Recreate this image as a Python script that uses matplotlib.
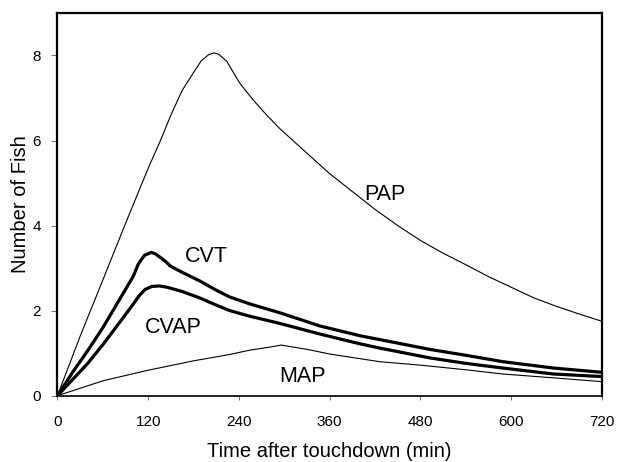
import matplotlib.pyplot as plt
import numpy as np

plt.rcParams['font.family'] = ['Liberation Sans', 'DejaVu Sans']

# time after touchdown (min) and number of fish per group
pap_t = [0, 30, 60, 90, 120, 135, 150, 165, 180, 190, 200, 207, 213, 224, 232, 241, 259, 275, 294,
         330, 360, 390, 420, 450, 480, 510, 540, 570, 600, 630, 660, 690, 720]
pap_n = [0, 1.4, 2.72, 4.05, 5.35, 5.95, 6.6, 7.18, 7.6, 7.87, 8.02, 8.06, 8.03, 7.86, 7.62, 7.35, 6.95, 6.63, 6.28,
         5.7, 5.22, 4.8, 4.38, 4.0, 3.65, 3.35, 3.08, 2.8, 2.55, 2.3, 2.1, 1.92, 1.75]

cvt_t = [0, 20, 40, 60, 80, 95, 100, 107, 115, 124, 130, 142, 150, 165, 188, 210, 228, 254, 294,
         347, 400, 426, 492, 540, 589, 656, 720]
cvt_n = [0, 0.55, 1.06, 1.6, 2.2, 2.65, 2.8, 3.1, 3.3, 3.37, 3.33, 3.17, 3.04, 2.9, 2.7, 2.48, 2.32, 2.16, 1.95,
         1.64, 1.41, 1.32, 1.09, 0.95, 0.8, 0.65, 0.55]

cvap_t = [0, 20, 40, 60, 85, 98, 108, 116, 125, 135, 145, 165, 188, 210, 228, 254, 294, 347, 400, 426,
          492, 540, 589, 656, 720]
cvap_n = [0, 0.38, 0.76, 1.2, 1.79, 2.1, 2.35, 2.5, 2.57, 2.58, 2.55, 2.45, 2.3, 2.13, 2.0, 1.87, 1.7, 1.45, 1.22, 1.12,
          0.89, 0.76, 0.65, 0.51, 0.45]

map_t = [0, 60, 120, 142, 180, 228, 254, 280, 296, 330, 360, 426, 479, 540, 589, 656, 720]
map_n = [0, 0.35, 0.6, 0.68, 0.82, 0.97, 1.07, 1.14, 1.19, 1.09, 0.98, 0.8, 0.72, 0.61, 0.51, 0.42, 0.33]

fig = plt.figure(figsize=(6.18, 4.62), dpi=100)
ax = fig.add_axes([0.093, 0.1435, 0.881, 0.8285])

ax.plot(pap_t, pap_n, color='black', lw=0.8)
ax.plot(cvt_t, cvt_n, color='black', lw=2.3, solid_joinstyle='round')
ax.plot(cvap_t, cvap_n, color='black', lw=2.3, solid_joinstyle='round')
ax.plot(map_t, map_n, color='black', lw=0.8)

ax.text(433, 4.72, 'PAP', fontsize=15.5, ha='center', va='center')
ax.text(197, 3.27, 'CVT', fontsize=15.5, ha='center', va='center')
ax.text(153, 1.61, 'CVAP', fontsize=15.5, ha='center', va='center')
ax.text(324, 0.45, 'MAP', fontsize=15.5, ha='center', va='center')

ax.set_xlim(0, 720)
ax.set_ylim(0, 9)
ax.set_xticks(np.arange(0, 721, 120))
ax.set_yticks([0, 2, 4, 6, 8])
ax.tick_params(axis='x', length=3, width=0.6, color='#555555', pad=11, labelsize=11)
ax.tick_params(axis='y', length=4, width=0.6, color='#555555', pad=8, labelsize=11)

for side in ['top', 'right', 'left']:
    ax.spines[side].set_linewidth(1.6)
ax.spines['bottom'].set_linewidth(1.2)

ax.set_xlabel('Time after touchdown (min)', fontsize=14.5, va='center')
ax.set_ylabel('Number of Fish', fontsize=14.5, va='center')
ax.xaxis.set_label_coords(0.5, -0.147)
ax.yaxis.set_label_coords(-0.067, 0.5)

fig.savefig('out.png', dpi=100)
